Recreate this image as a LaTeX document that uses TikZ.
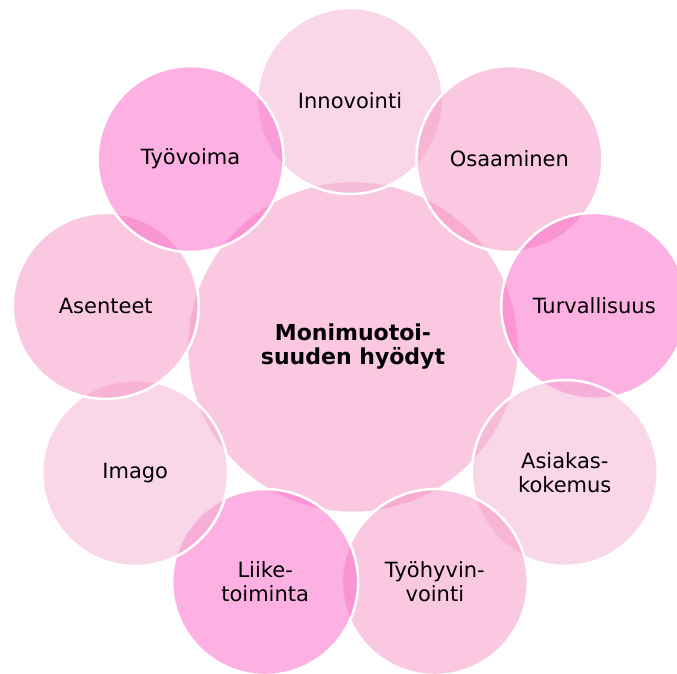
\documentclass[tikz,border=0pt]{standalone}
\usepackage{fontspec}
\setmainfont{DejaVu Sans}

\definecolor{petalpale}{RGB}{243,175,209}
\definecolor{petalsoft}{RGB}{247,145,195}
\definecolor{petaldeep}{RGB}{251,99,199}
\definecolor{hubfill}{RGB}{251,200,225}

\tikzset{
  petal/.style={circle, draw=white, line width=2.5pt, fill opacity=0.5,
    text opacity=1, minimum size=186pt, inner sep=0pt, align=center,
    font=\fontsize{21}{24}\selectfont},
  hubdisc/.style={circle, draw=white, line width=2.5pt, fill=hubfill,
    minimum size=332pt, inner sep=0pt, align=center,
    font=\fontsize{22}{24}\selectfont\bfseries}
}

\begin{document}
\begin{tikzpicture}[x=1pt,y=1pt]
\clip (0,0) rectangle (677,674);
% Centre
\coordinate (ring) at (350,325);
\node[hubdisc] (hub) at (353,327) {Monimuotoi-\\suuden hyödyt};
% Benefits round the centre, clockwise from the top
\foreach \txt/\tone [count=\i] in {Innovointi/pale, Osaaminen/soft,
    Turvallisuus/deep, {Asiakas-\\kokemus}/pale, {Työhyvin-\\vointi}/soft,
    {Liike-\\toiminta}/deep, Imago/pale, Asenteet/soft, Työvoima/deep} {
  \pgfmathsetmacro\ang{90-40*(\i-1)}
  \node[petal, fill=petal\tone] (p\i) at ([shift={(\ang:248)}]ring) {\txt};
}
\end{tikzpicture}
\end{document}
